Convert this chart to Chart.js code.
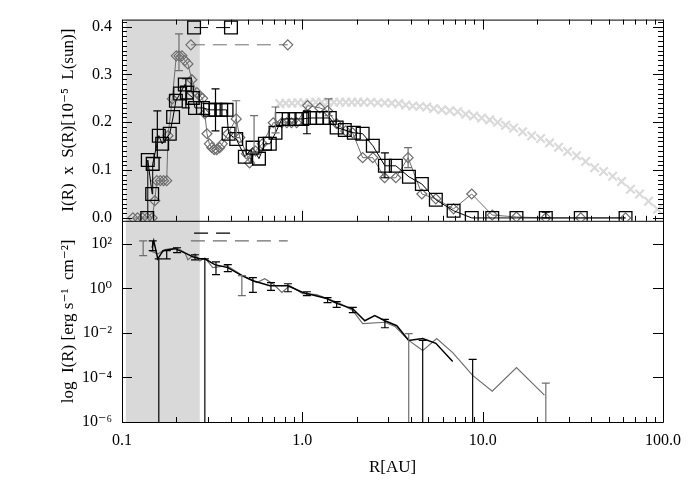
<!DOCTYPE html>
<html>
<head>
<meta charset="utf-8">
<script src="https://cdn.jsdelivr.net/npm/chart.js@4.4.1/dist/chart.umd.min.js"></script>
<style>
  html, body { margin: 0; background: #fff; }
</style>
</head>
<body>
<canvas id="c" width="700" height="500"></canvas>
<script>
// ---- top panel: I(R) x S(R) ----
const sqR = [0.138,0.139,0.147,0.148,0.160,0.167,0.184,0.192,0.199,0.210,0.223,0.229,0.247,0.254,0.281,0.307,0.330,0.355,0.380,0.390,0.430,0.480,0.530,0.575,0.620,0.660,0.710,0.770,0.840,0.920,1.00,1.10,1.20,1.30,1.42,1.55,1.72,1.93,2.16,2.46,2.87,3.30,3.90,4.60,5.50,6.90,8.70,11.3,15.4,22.4,35.0,62.0];
const sqS = [0.0,0.121,0.050,0.113,0.172,0.155,0.176,0.211,0.245,0.260,0.279,0.262,0.251,0.230,0.230,0.226,0.226,0.226,0.226,0.176,0.165,0.128,0.147,0.124,0.155,0.155,0.178,0.207,0.207,0.207,0.207,0.209,0.209,0.209,0.209,0.189,0.184,0.178,0.176,0.151,0.109,0.109,0.086,0.071,0.038,0.015,0.0,0.0,0.0,0.0,0.0,0.0];

const dmR = [0.115,0.122,0.130,0.138,0.147,0.152,0.156,0.163,0.170,0.177,0.180,0.190,0.200,0.207,0.215,0.223,0.232,0.244,0.260,0.270,0.280,0.288,0.296,0.305,0.315,0.325,0.335,0.348,0.360,0.386,0.430,0.450,0.490,0.510,0.550,0.600,0.690,0.770,0.820,0.870,0.930,1.07,1.25,1.38,1.55,1.74,1.90,2.16,2.46,2.86,3.30,3.86,4.60,5.50,6.90,8.70,11.3,15.4,22.4,35.0,62.0];
const dmS = [0,0,0,0,0,0.036,0.078,0.078,0.078,0.078,0.172,0.249,0.339,0.339,0.339,0.329,0.322,0.289,0.262,0.255,0.250,0.218,0.176,0.155,0.147,0.143,0.143,0.147,0.155,0.176,0.207,0.168,0.134,0.115,0.140,0.155,0.199,0.199,0.199,0.199,0.199,0.235,0.230,0.224,0.197,0.182,0.178,0.126,0.126,0.084,0.084,0.126,0.050,0.040,0.019,0.050,0.006,0.002,0,0,0];

const crossR = [0.750,0.810,0.875,0.944,1.019,1.100,1.188,1.283,1.385,1.495,1.614,1.742,1.880,2.030,2.191,2.396,2.620,2.865,3.132,3.425,3.745,4.095,4.477,4.895,5.352,5.93,6.565,7.27,8.05,8.92,9.87,10.94,12.11,13.41,14.85,16.66,18.69,20.96,23.51,26.37,29.58,33.18,37.22,41.75,46.83,52.52,58.91,66.07,74.11,83.12,93.24];
const crossS = [0.239,0.240,0.240,0.241,0.241,0.241,0.242,0.242,0.242,0.242,0.242,0.242,0.242,0.242,0.242,0.242,0.241,0.241,0.240,0.239,0.236,0.234,0.233,0.232,0.229,0.226,0.224,0.222,0.217,0.213,0.209,0.205,0.200,0.194,0.188,0.180,0.172,0.166,0.157,0.148,0.139,0.130,0.118,0.105,0.097,0.087,0.076,0.060,0.050,0.035,0.018];

const legSqR = [0.251, 0.402], legSqS = [0.398, 0.398];
const legDmR = [0.241, 0.830], legDmS = [0.362, 0.362];

const ebSqR = [0.157,0.226,0.330,1.06,2.87,22.4];
const ebSqLo = [0.126,0.230,0.182,0.176,0.084,0.0];
const ebSqHi = [0.224,0.291,0.270,0.224,0.136,0.012];
const ebDmR = [0.207,0.430,0.540,0.710,1.40,3.86];
const ebDmLo = [0.308,0.168,0.136,0.178,0.214,0.105];
const ebDmHi = [0.385,0.245,0.214,0.232,0.249,0.147];

// ---- bottom panel: I(R) ----
const blkR = [0.147,0.150,0.158,0.169,0.180,0.197,0.215,0.229,0.247,0.270,0.288,0.327,0.386,0.462,0.532,0.661,0.832,1.006,1.367,1.55,1.905,2.22,2.52,2.87,3.34,3.89,4.65,5.5,6.82];
const blkI = [66,135,21,49,54,60,44,35,26,21,21,11.5,8.5,3.7,2.2,1.3,1.3,0.65,0.35,0.21,0.12,0.035,0.06,0.035,0.021,0.0046,0.0056,0.0034,0.00052];

const gryR = [0.143,0.152,0.158,0.173,0.189,0.202,0.223,0.232,0.254,0.270,0.288,0.319,0.381,0.468,0.559,0.619,0.687,0.770,0.852,1.006,1.20,1.41,1.61,1.905,2.16,2.87,3.26,3.89,4.65,5.56,6.82,8.8,11.3,15.4,22.0];
const gryI = [49,40,35,54,60,66,40,19,35,17,23,8.5,10.5,3.7,1.8,2.7,1.6,0.65,1.3,0.58,0.52,0.32,0.21,0.10,0.026,0.030,0.0195,0.0046,0.0016,0.0056,0.0013,0.000123,0.000024,0.00028,0.000016];

const dashBlkR = [0.251, 0.402], dashBlkI = [300, 300];
const dashGryR = [0.241, 0.830], dashGryI = [135, 135];

const ebBlkR = [0.148,0.160,0.177,0.202,0.254,0.288,0.332,0.386,0.532,0.670,0.832,1.06,1.38,1.55,1.905,2.87,4.65,8.8];
const ebBlkLo = [49,1e-8,21,40,19,1e-8,4.1,5.6,0.65,0.8,0.7,0.47,0.23,0.14,0.081,0.017,1e-8,1e-8];
const ebBlkHi = [135,21,49,66,32,21,15.5,11.5,3.0,1.8,1.6,0.7,0.38,0.25,0.14,0.04,0.0046,0.00065];
const ebGryR = [0.131,0.462,3.89,22.4];
const ebGryLo = [29,0.47,1e-8,1e-8];
const ebGryHi = [135,3.7,0.0093,5.5e-5];

// shaded R range and axis labels
const shadeR = [0.105, 0.27];
const xTicks = [0.1, 1, 10, 100];
const xTickText = ['0.1', '1.0', '10.0', '100.0'];
const topTicks = [0, 0.1, 0.2, 0.3, 0.4];
const botTicks = [1e-6, 1e-4, 1e-2, 1, 1e2];

const SERIF = "'Liberation Serif', 'DejaVu Serif', serif";
const GRAY = '#6e6e6e';
const sup = s => s.replace(/[-0-9]/g, c => '⁻⁰¹²³⁴⁵⁶⁷⁸⁹'['-0123456789'.indexOf(c)]);
const pts = (xs, ys) => xs.map((v, i) => ({ x: v, y: ys[i] }));

Chart.defaults.font.family = SERIF;
Chart.defaults.font.size = 16;
Chart.defaults.color = '#000';
const titleFont = { family: SERIF, size: 17 };

// grey band, error bars, frame with inward ticks
const extras = {
  id: 'extras',
  beforeDatasetsDraw(chart) {
    const { ctx, chartArea: a, scales: { x } } = chart;
    const x0 = x.getPixelForValue(shadeR[0]), x1 = x.getPixelForValue(shadeR[1]);
    ctx.save();
    ctx.fillStyle = '#d9d9d9';
    ctx.fillRect(x0, a.top, x1 - x0, a.bottom - a.top);
    ctx.restore();
  },
  afterDatasetsDraw(chart) {
    const { ctx, chartArea: a, scales } = chart;
    const bars = [
      { axis: 'yTop', r: ebSqR, lo: ebSqLo, hi: ebSqHi, color: '#000' },
      { axis: 'yTop', r: ebDmR, lo: ebDmLo, hi: ebDmHi, color: GRAY },
      { axis: 'yBot', r: ebBlkR, lo: ebBlkLo, hi: ebBlkHi, color: '#000' },
      { axis: 'yBot', r: ebGryR, lo: ebGryLo, hi: ebGryHi, color: GRAY }
    ];
    ctx.save();
    ctx.beginPath();
    ctx.rect(a.left, a.top, a.right - a.left, a.bottom - a.top);
    ctx.clip();
    ctx.lineWidth = 1.2;
    bars.forEach(b => {
      const y = scales[b.axis];
      ctx.strokeStyle = b.color;
      b.r.forEach((r, i) => {
        const px = scales.x.getPixelForValue(r);
        const p0 = y.getPixelForValue(b.lo[i]), p1 = y.getPixelForValue(b.hi[i]);
        ctx.beginPath();
        ctx.moveTo(px, p0); ctx.lineTo(px, p1);
        ctx.moveTo(px - 4, p0); ctx.lineTo(px + 4, p0);
        ctx.moveTo(px - 4, p1); ctx.lineTo(px + 4, p1);
        ctx.stroke();
      });
    });
    ctx.restore();
  },
  afterDraw(chart) {
    const { ctx, chartArea: a, scales: { x, yTop, yBot } } = chart;
    const mid = yTop.bottom;
    const line = (x0, y0, x1, y1) => { ctx.moveTo(x0, y0); ctx.lineTo(x1, y1); };
    ctx.save();
    ctx.strokeStyle = '#000';
    ctx.lineWidth = 1;
    ctx.beginPath();
    ctx.rect(a.left + 0.5, a.top + 0.5, a.right - a.left, a.bottom - a.top);
    line(a.left, mid + 0.5, a.right, mid + 0.5);
    // log R ticks
    for (let d = 0.1; d < 200; d *= 10) {
      for (let m = 1; m <= 9; m++) {
        const v = d * m;
        if (v > 100.001) break;
        const px = Math.round(x.getPixelForValue(v)) + 0.5;
        const len = m === 1 ? 10 : 5;
        line(px, a.top, px, a.top + len);
        line(px, mid, px, mid - len);
        line(px, a.bottom, px, a.bottom - len);
      }
    }
    // top panel y ticks
    for (let k = 0; k <= 41; k++) {
      const py = Math.round(yTop.getPixelForValue(k / 100)) + 0.5;
      const len = k % 10 === 0 ? 10 : 5;
      line(a.left, py, a.left + len, py);
      line(a.right, py, a.right - len, py);
    }
    // bottom panel y ticks
    botTicks.forEach(v => {
      const py = Math.round(yBot.getPixelForValue(v)) + 0.5;
      line(a.left, py, a.left + 10, py);
      line(a.right, py, a.right - 10, py);
    });
    ctx.stroke();
    ctx.restore();
  }
};

const markerLine = (data, yAxisID, color, extra) => Object.assign({
  data, yAxisID, borderColor: color, borderWidth: 1,
  pointBorderColor: color, pointBackgroundColor: 'rgba(0,0,0,0)'
}, extra);

new Chart(document.getElementById('c'), {
  type: 'line',
  data: {
    datasets: [
      markerLine(pts(sqR, sqS), 'yTop', '#000', { pointStyle: 'rect', pointRadius: 9, pointBorderWidth: 1.3 }),
      markerLine(pts(legSqR, legSqS), 'yTop', '#000', { pointStyle: 'rect', pointRadius: 9, pointBorderWidth: 1.3, borderDash: [14, 8] }),
      markerLine(pts(dmR, dmS), 'yTop', GRAY, { pointStyle: 'rectRot', pointRadius: 5, pointBorderWidth: 1.2 }),
      markerLine(pts(legDmR, legDmS), 'yTop', GRAY, { pointStyle: 'rectRot', pointRadius: 5, pointBorderWidth: 1.2, borderDash: [14, 8] }),
      markerLine(pts(crossR, crossS), 'yTop', '#dadada', { showLine: false, pointStyle: 'crossRot', pointRadius: 6, pointBorderWidth: 2.2 }),
      markerLine(pts(blkR, blkI), 'yBot', '#000', { borderWidth: 1.5, pointRadius: 0 }),
      markerLine(pts(gryR, gryI), 'yBot', GRAY, { borderWidth: 1.2, pointRadius: 0 }),
      markerLine(pts(dashBlkR, dashBlkI), 'yBot', '#000', { borderWidth: 1.3, pointRadius: 0, borderDash: [14, 8] }),
      markerLine(pts(dashGryR, dashGryI), 'yBot', GRAY, { borderWidth: 1.2, pointRadius: 0, borderDash: [14, 8] })
    ]
  },
  options: {
    responsive: false,
    animation: false,
    events: [],
    layout: { padding: { top: 19, right: 37, left: 0, bottom: 0 } },
    plugins: { legend: { display: false }, tooltip: { enabled: false } },
    scales: {
      x: {
        type: 'logarithmic', min: 0.1, max: 100,
        grid: { display: false, drawTicks: false }, border: { display: false },
        afterBuildTicks: s => { s.ticks = xTicks.map(v => ({ value: v })); },
        afterFit: s => { s.height = 78; },
        ticks: { padding: 9, maxRotation: 0, autoSkip: false, callback: (v, i) => xTickText[i] },
        title: { display: true, text: 'R[AU]', font: titleFont, padding: { top: 6, bottom: 22 } }
      },
      yBot: {
        type: 'logarithmic', position: 'left', stack: 'panels', stackWeight: 1,
        min: 1e-6, max: 1070,
        grid: { display: false, drawTicks: false }, border: { display: false },
        afterBuildTicks: s => { s.ticks = botTicks.map(v => ({ value: v })); },
        afterFit: s => { s.width = 122; },
        ticks: { padding: 10, autoSkip: false, callback: v => '10' + sup(String(Math.round(Math.log10(v)))) },
        title: { display: true, text: 'log  I(R) [erg s' + sup('-1') + '  cm' + sup('-2') + ']', font: titleFont, padding: { top: 58, bottom: 0 } }
      },
      yTop: {
        type: 'linear', position: 'left', stack: 'panels', stackWeight: 1,
        min: -0.006, max: 0.4147,
        grid: { display: false, drawTicks: false }, border: { display: false },
        afterBuildTicks: s => { s.ticks = topTicks.map(v => ({ value: v })); },
        afterFit: s => { s.width = 122; },
        ticks: { padding: 10, autoSkip: false, callback: v => v.toFixed(1) },
        title: { display: true, text: 'I(R)  x  S(R)[10' + sup('-5') + '  L(sun)]', font: titleFont, padding: { top: 58, bottom: 0 } }
      }
    }
  },
  plugins: [extras]
});
</script>
</body>
</html>
